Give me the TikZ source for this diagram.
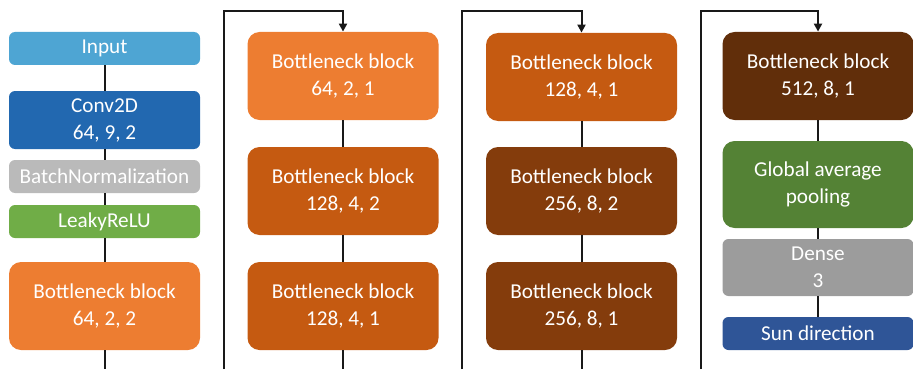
\documentclass[tikz,border=0pt]{standalone}
\usepackage{fontspec}
\setmainfont{Carlito}
\usetikzlibrary{arrows.meta,positioning}
\definecolor{inblue}{HTML}{4EA5D3}
\definecolor{convblue}{HTML}{2268B0}
\definecolor{bngray}{HTML}{BABABA}
\definecolor{relugreen}{HTML}{70AD47}
\definecolor{orA}{HTML}{ED7D31}
\definecolor{orB}{HTML}{C55A11}
\definecolor{orC}{HTML}{843C0C}
\definecolor{orD}{HTML}{612E0A}
\definecolor{poolgreen}{HTML}{548235}
\definecolor{densegray}{HTML}{9C9C9C}
\definecolor{sunblue}{HTML}{2F5597}
\tikzset{layer/.style={rounded corners=3pt,text=white,align=center,minimum width=95.5pt,minimum height=16.5pt,inner sep=1pt,font=\fontsize{10.6}{13.5}\selectfont},
blk/.style={layer,rounded corners=6pt,minimum height=44pt},
link/.style={line width=1pt,black!90},
loop/.style={link,-{Triangle[length=4pt,width=4pt]}}}

\begin{document}
\begin{tikzpicture}[x=0.5pt,y=-0.5pt]
\useasboundingbox (0,0) rectangle (913,369);
% stem
\node[layer,fill=inblue] (in) at (104.5,48.5) {Input};
\node[layer,fill=convblue,minimum height=29pt] (conv) at (104.5,120) {Conv2D\\64, 9, 2};
\node[layer,fill=bngray] (bn) at (104.5,176.5) {BatchNormalization};
\node[layer,fill=relugreen] (relu) at (104.5,221.5) {LeakyReLU};
\node[blk,fill=orA] (b11) at (104.5,306) {Bottleneck block\\64, 2, 2};
\coordinate (c1end) at (104.5,369);
\draw[link] (in) -- (conv);
\draw[link] (conv) -- (bn);
\draw[link] (bn) -- (relu);
\draw[link] (relu) -- (b11);
\draw[link] (b11) -- (c1end);
% second column
\node[blk,fill=orA] (b21) at (343,76) {Bottleneck block\\64, 2, 1};
\node[blk,fill=orB] (b22) at (343,191) {Bottleneck block\\128, 4, 2};
\node[blk,fill=orB] (b23) at (343,306) {Bottleneck block\\128, 4, 1};
\coordinate (c2in) at (224,369);
\coordinate (c2top) at (224,11);
\coordinate (c2end) at (343,369);
\draw[loop] (c2in) -- (c2top) -| (b21);
\draw[link] (b21) -- (b22);
\draw[link] (b22) -- (b23);
\draw[link] (b23) -- (c2end);
% third column
\node[blk,fill=orB] (b31) at (581.5,77) {Bottleneck block\\128, 4, 1};
\node[blk,fill=orC] (b32) at (581.5,191) {Bottleneck block\\256, 8, 2};
\node[blk,fill=orC] (b33) at (581.5,306) {Bottleneck block\\256, 8, 1};
\coordinate (c3in) at (462,369);
\coordinate (c3top) at (462,11);
\coordinate (c3end) at (581.5,369);
\draw[loop] (c3in) -- (c3top) -| (b31);
\draw[link] (b31) -- (b32);
\draw[link] (b32) -- (b33);
\draw[link] (b33) -- (c3end);
% head
\node[blk,fill=orD] (b41) at (818,76) {Bottleneck block\\512, 8, 1};
\node[blk,fill=poolgreen,minimum height=43.5pt] (gap) at (818,184.5) {Global average\\pooling};
\node[layer,fill=densegray,minimum height=28.5pt] (dense) at (818,267.5) {Dense\\3};
\node[layer,fill=sunblue] (sun) at (818,333.5) {Sun direction};
\coordinate (c4in) at (701,369);
\coordinate (c4top) at (701,11);
\draw[loop] (c4in) -- (c4top) -| (b41);
\draw[link] (b41) -- (gap);
\draw[link] (gap) -- (dense);
\draw[link] (dense) -- (sun);
\end{tikzpicture}
\end{document}
